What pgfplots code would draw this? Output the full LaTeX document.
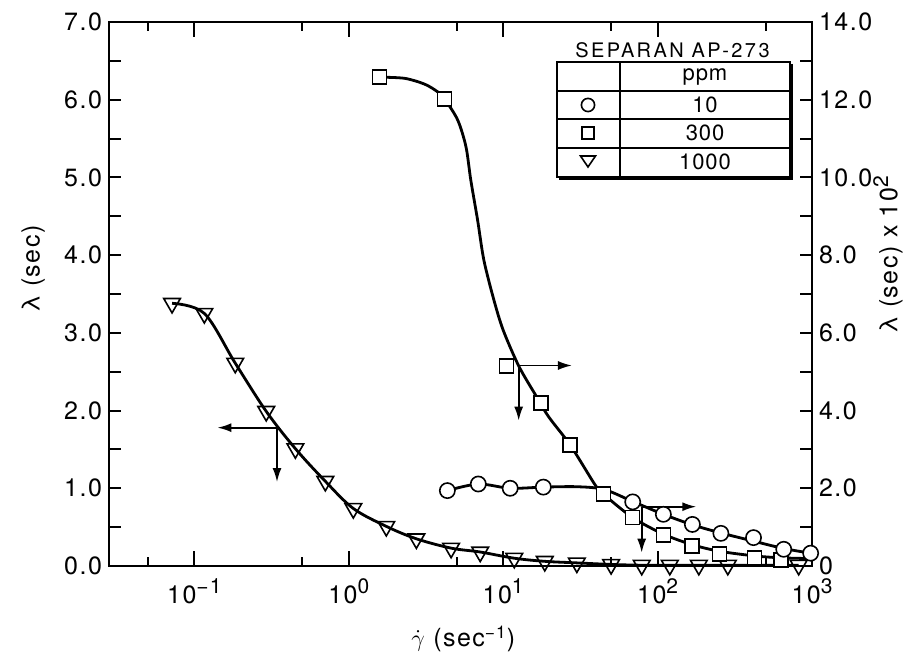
\documentclass[border=0pt]{standalone}
\usepackage{fontspec}
\setmainfont{TeX Gyre Heros}
\usepackage{pgfplots}
\usepackage{pgfplotstable}
\pgfplotsset{compat=1.18}
\usetikzlibrary{arrows.meta}

% 1000 ppm, left axis (sec)
\pgfplotstableread{
x y
0.0717 3.38
0.116 3.25
0.184 2.61
0.292 1.99
0.451 1.51
0.705 1.09
1.07 0.74
1.75 0.51
2.74 0.35
4.6 0.23
7.1 0.18
11.8 0.10
18.6 0.06
30 0.04
50 0.02
79 0.01
120 0.01
185 0.01
285 0.01
820 0.01
}\tridata

% 300 ppm, right axis (sec x 10^2)
\pgfplotstableread{
x y
1.58 12.58
4.17 12.02
10.5 5.15
17.5 4.19
27.2 3.11
44.6 1.85
68.7 1.25
109 0.80
167 0.51
251 0.31
424 0.20
632 0.15
}\sqdata

\pgfplotstableread{
x y
1.58 12.58
2.3 12.55
3.1 12.40
3.77 12.2
4.17 12.02
5.07 11.48
5.74 10.79
6.17 9.93
6.83 8.90
7.5 7.87
8.7 6.85
10.0 6.07
12.6 5.15
16.2 4.40
19.7 3.84
27.2 3.11
39.5 2.08
44.6 1.85
68.7 1.25
109 0.82
167 0.55
251 0.38
424 0.26
632 0.21
1000 0.19
}\sqcurve

% 10 ppm, right axis
\pgfplotstableread{
x y
4.35 1.94
6.9 2.11
11.1 2.00
18.2 2.03
69 1.65
109 1.33
168 1.07
257 0.84
418 0.73
656 0.43
980 0.33
}\cidata

\pgfplotstableread{
x y
4.35 1.94
6.9 2.11
11.1 2.00
18.2 2.03
30 2.04
45 1.97
69 1.66
109 1.33
168 1.06
257 0.85
418 0.64
656 0.45
980 0.33
}\cicurve

\newcommand\lblfont{\fontsize{12.5}{14}\selectfont\addfontfeature{LetterSpace=6}}
\newcommand\sups[1]{\raisebox{0.7ex}{\fontsize{10.5}{12}\selectfont #1}}

\pgfplotsset{
  myaxis/.style={
    at={(0,0)}, anchor=south west,
    scale only axis, width=351.5pt, height=272pt,
    xmin=0.028, xmax=1000,
    tick style={line width=1pt, black},
    axis line style={line width=1.2pt},
    tick align=inside,
    tick label style={font=\lblfont},
    label style={font=\lblfont},
    clip=false,
  },
}

\begin{document}
\begin{tikzpicture}
\useasboundingbox (-54.5pt,-45pt) rectangle (400.5pt,283pt);

% main axis: x ticks, 1000 ppm data, arrows
\begin{axis}[xmode=log, myaxis,
  ymin=0, ymax=7,
  xtick={0.1,1,10,100,1000},
  xticklabels={10\sups{−1},10\sups{0},10\sups{1},10\sups{2},10\sups{3}},
  xticklabel style={yshift=-3pt},
  minor xtick={0.05,0.5,5,50,500},
  xtick pos=both,
  ytick=\empty,
  major tick length=7.5pt, minor tick length=4.5pt,
  xlabel={$\dot{\gamma}$ (sec\textsuperscript{−1})},
  xlabel style={at={(axis description cs:0.504,-0.134)}, anchor=center},
]
\addplot[black, line width=1.4pt, smooth, tension=0.55,
  mark=triangle, mark size=4.8pt,
  mark options={rotate=180, fill=white, line width=0.8pt, solid}]
  table {\tridata};
\draw[line width=0.9pt, -{Latex[length=7pt,width=4.5pt]}] (axis cs:0.343,1.78) -- (axis cs:0.141,1.78);
\draw[line width=0.9pt, -{Latex[length=7pt,width=4.5pt]}] (axis cs:0.343,1.78) -- (axis cs:0.343,1.08);
\draw[line width=0.9pt, -{Latex[length=7pt,width=4.5pt]}] (axis cs:12.6,2.58) -- (axis cs:27.9,2.58);
\draw[line width=0.9pt, -{Latex[length=7pt,width=4.5pt]}] (axis cs:12.6,2.58) -- (axis cs:12.6,1.87);
\draw[line width=0.9pt, -{Latex[length=7pt,width=4.5pt]}] (axis cs:78.9,0.763) -- (axis cs:178,0.763);
\draw[line width=0.9pt, -{Latex[length=7pt,width=4.5pt]}] (axis cs:78.9,0.763) -- (axis cs:78.9,0.171);
\end{axis}

% left y axis
\begin{axis}[xmode=log, myaxis,
  ymin=0, ymax=7,
  axis x line=none, axis y line*=left,
  ytick={0,1,...,7},
  yticklabels={0.0,1.0,2.0,3.0,4.0,5.0,6.0,7.0},
  minor ytick={0.5,1.5,...,6.5},
  major tick length=6pt, minor tick length=6pt,
  ylabel={λ (sec)},
  ylabel style={at={(axis description cs:-0.108,0.546)}, anchor=center},
]
\end{axis}

% right y axis: 10 and 300 ppm
\begin{axis}[xmode=log, myaxis,
  ymin=0, ymax=14,
  axis x line=none, axis y line*=right,
  ytick={0,2,...,14},
  yticklabels={0,2.0,4.0,6.0,8.0,10.0,12.0,14.0},
  minor ytick={1,3,...,13},
  major tick length=6pt, minor tick length=6pt,
  ylabel={λ (sec) x 10\sups{2}},
  ylabel style={at={(axis description cs:1.108,0.572)}, anchor=center},
]
\addplot[black, line width=1.4pt, smooth, tension=0.5] table {\sqcurve};
\addplot[black, line width=1.4pt, smooth, tension=0.5] table {\cicurve};
\addplot[only marks, mark=square*, mark size=3.5pt,
  mark options={fill=white, draw=black, line width=0.8pt}] table {\sqdata};
\addplot[only marks, mark=*, mark size=3.8pt,
  mark options={fill=white, draw=black, line width=0.8pt}] table {\cidata};
\end{axis}

% legend box
\begin{scope}[line width=0.8pt]
\node[font=\fontsize{10}{12}\selectfont\addfontfeature{LetterSpace=12}] at (281.75pt,258pt) {SEPARAN AP-273};
\draw[line width=2pt] (341pt,251pt) -- (341pt,194pt) -- (225pt,194pt);
\draw (224pt,194.5pt) rectangle (340.5pt,252pt);
\draw (224pt,237.5pt) -- (340.5pt,237.5pt);
\draw (224pt,223.5pt) -- (340.5pt,223.5pt);
\draw (224pt,209pt) -- (340.5pt,209pt);
\draw (255.5pt,194.5pt) -- (255.5pt,252pt);
\draw (239.5pt,230.5pt) circle (3.3pt);
\draw (236.5pt,213.5pt) rectangle (242.5pt,219.5pt);
\draw (235.75pt,205pt) -- (243.25pt,205pt) -- (239.5pt,199.5pt) -- cycle;
\begin{scope}[every node/.style={font=\fontsize{11}{13}\selectfont\addfontfeature{LetterSpace=4}}]
\node at (298pt,244.5pt) {ppm};
\node at (298pt,230.5pt) {10};
\node at (298pt,216.5pt) {300};
\node at (298pt,202pt) {1000};
\end{scope}
\end{scope}
\end{tikzpicture}
\end{document}
